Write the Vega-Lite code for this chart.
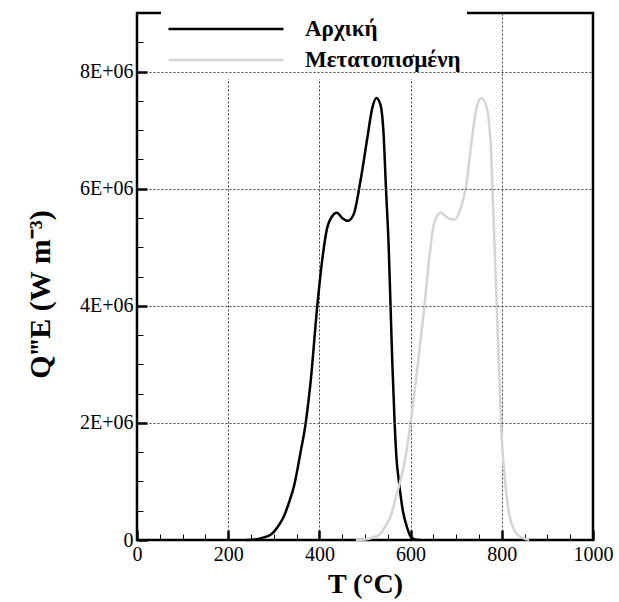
{
  "$schema": "https://vega.github.io/schema/vega-lite/v6.json",
  "width": 456,
  "height": 527,
  "autosize": "none",
  "padding": {"left": 137, "top": 13, "right": 26, "bottom": 62},
  "background": "white",
  "config": {
    "font": "Liberation Serif",
    "view": {"stroke": "black", "strokeWidth": 2.5},
    "legend": {"labelFontWeight": "bold", "zindex": 0}
  },
  "data": {
    "values": [
      {"series": "Αρχική", "T": 240, "Q": 0},
      {"series": "Αρχική", "T": 260, "Q": 10000},
      {"series": "Αρχική", "T": 280, "Q": 50000},
      {"series": "Αρχική", "T": 292, "Q": 85000},
      {"series": "Αρχική", "T": 310, "Q": 240000},
      {"series": "Αρχική", "T": 322, "Q": 400000},
      {"series": "Αρχική", "T": 335, "Q": 680000},
      {"series": "Αρχική", "T": 344, "Q": 910000},
      {"series": "Αρχική", "T": 358, "Q": 1470000},
      {"series": "Αρχική", "T": 370, "Q": 2000000},
      {"series": "Αρχική", "T": 381, "Q": 2720000},
      {"series": "Αρχική", "T": 395, "Q": 3970000},
      {"series": "Αρχική", "T": 406, "Q": 4770000},
      {"series": "Αρχική", "T": 417, "Q": 5330000},
      {"series": "Αρχική", "T": 428, "Q": 5530000},
      {"series": "Αρχική", "T": 438, "Q": 5590000},
      {"series": "Αρχική", "T": 450, "Q": 5500000},
      {"series": "Αρχική", "T": 462, "Q": 5450000},
      {"series": "Αρχική", "T": 475, "Q": 5560000},
      {"series": "Αρχική", "T": 490, "Q": 6130000},
      {"series": "Αρχική", "T": 505, "Q": 6860000},
      {"series": "Αρχική", "T": 516, "Q": 7380000},
      {"series": "Αρχική", "T": 525, "Q": 7550000},
      {"series": "Αρχική", "T": 534, "Q": 7430000},
      {"series": "Αρχική", "T": 541, "Q": 6900000},
      {"series": "Αρχική", "T": 546, "Q": 6000000},
      {"series": "Αρχική", "T": 552, "Q": 5000000},
      {"series": "Αρχική", "T": 556, "Q": 4000000},
      {"series": "Αρχική", "T": 560, "Q": 3000000},
      {"series": "Αρχική", "T": 565, "Q": 2000000},
      {"series": "Αρχική", "T": 569, "Q": 1400000},
      {"series": "Αρχική", "T": 575, "Q": 960000},
      {"series": "Αρχική", "T": 583, "Q": 500000},
      {"series": "Αρχική", "T": 593, "Q": 200000},
      {"series": "Αρχική", "T": 600, "Q": 60000},
      {"series": "Αρχική", "T": 610, "Q": 10000},
      {"series": "Αρχική", "T": 620, "Q": 0},
      {"series": "Μετατοπισμένη", "T": 480, "Q": 0},
      {"series": "Μετατοπισμένη", "T": 500, "Q": 10000},
      {"series": "Μετατοπισμένη", "T": 520, "Q": 50000},
      {"series": "Μετατοπισμένη", "T": 534, "Q": 110000},
      {"series": "Μετατοπισμένη", "T": 545, "Q": 240000},
      {"series": "Μετατοπισμένη", "T": 556, "Q": 400000},
      {"series": "Μετατοπισμένη", "T": 566, "Q": 680000},
      {"series": "Μετατοπισμένη", "T": 575, "Q": 930000},
      {"series": "Μετατοπισμένη", "T": 590, "Q": 1470000},
      {"series": "Μετατοπισμένη", "T": 600, "Q": 2000000},
      {"series": "Μετατοπισμένη", "T": 615, "Q": 2950000},
      {"series": "Μετατοπισμένη", "T": 630, "Q": 3970000},
      {"series": "Μετατοπισμένη", "T": 641, "Q": 4820000},
      {"series": "Μετατοπισμένη", "T": 651, "Q": 5390000},
      {"series": "Μετατοπισμένη", "T": 666, "Q": 5590000},
      {"series": "Μετατοπισμένη", "T": 681, "Q": 5500000},
      {"series": "Μετατοπισμένη", "T": 696, "Q": 5470000},
      {"series": "Μετατοπισμένη", "T": 710, "Q": 5670000},
      {"series": "Μετατοπισμένη", "T": 721, "Q": 6010000},
      {"series": "Μετατοπισμένη", "T": 732, "Q": 6690000},
      {"series": "Μετατοπισμένη", "T": 743, "Q": 7320000},
      {"series": "Μετατοπισμένη", "T": 755, "Q": 7550000},
      {"series": "Μετατοπισμένη", "T": 767, "Q": 7380000},
      {"series": "Μετατοπισμένη", "T": 776, "Q": 6690000},
      {"series": "Μετατοπισμένη", "T": 783, "Q": 5280000},
      {"series": "Μετατοπισμένη", "T": 789, "Q": 3970000},
      {"series": "Μετατοπισμένη", "T": 795, "Q": 2720000},
      {"series": "Μετατοπισμένη", "T": 799, "Q": 1870000},
      {"series": "Μετατοπισμένη", "T": 807, "Q": 1020000},
      {"series": "Μετατοπισμένη", "T": 816, "Q": 450000},
      {"series": "Μετατοπισμένη", "T": 827, "Q": 170000},
      {"series": "Μετατοπισμένη", "T": 842, "Q": 50000},
      {"series": "Μετατοπισμένη", "T": 860, "Q": 0}
    ]
  },
  "mark": {"type": "line", "interpolate": "monotone", "strokeWidth": 2.5},
  "encoding": {
    "x": {
      "field": "T",
      "type": "quantitative",
      "scale": {"domain": [0, 1000], "nice": false, "zero": false},
      "axis": {
        "values": [0, 50, 100, 150, 200, 250, 300, 350, 400, 450, 500, 550, 600, 650, 700, 750, 800, 850, 900, 950, 1000],
        "format": "d",
        "zindex": 0,
        "title": "T (°C)",
        "titleFont": "Liberation Serif",
        "titleFontSize": 28,
        "titleFontWeight": "bold",
        "titleColor": "black",
        "titlePadding": 2,
        "labelFont": "Liberation Serif",
        "labelFontSize": 20,
        "labelColor": "black",
        "labelExpr": "datum.value % 200 === 0 ? datum.label : ''",
        "labelOverlap": false,
        "labelFlush": false,
        "labelBound": false,
        "labelPadding": 14,
        "domain": false,
        "ticks": true,
        "tickColor": "black",
        "tickSize": {"condition": {"test": "datum.value % 200 === 0", "value": -10}, "value": -6},
        "tickWidth": {"condition": {"test": "datum.value % 200 === 0", "value": 2.5}, "value": 1},
        "grid": true,
        "gridColor": "#444444",
        "gridDash": [2, 2],
        "gridWidth": 1,
        "gridOpacity": {"condition": {"test": "datum.value % 200 === 0 && datum.value > 0 && datum.value < 1000", "value": 1}, "value": 0}
      }
    },
    "y": {
      "field": "Q",
      "type": "quantitative",
      "scale": {"domain": [0, 9000000], "nice": false},
      "axis": {
        "values": [0, 500000, 1000000, 1500000, 2000000, 2500000, 3000000, 3500000, 4000000, 4500000, 5000000, 5500000, 6000000, 6500000, 7000000, 7500000, 8000000, 8500000],
        "zindex": 1,
        "title": "Q‴E  (W m⁻³)",
        "titleFont": "Liberation Serif",
        "titleFontSize": 30,
        "titleFontWeight": "bold",
        "titleColor": "black",
        "titlePadding": 24,
        "titleY": 281,
        "labelFont": "Liberation Serif",
        "labelFontSize": 20,
        "labelColor": "black",
        "labelExpr": "datum.value % 2000000 === 0 ? (datum.value === 0 ? '0' : (datum.value / 1000000) + 'E+06') : ''",
        "labelOverlap": false,
        "labelFlush": false,
        "labelBound": false,
        "labelPadding": 14,
        "domain": false,
        "ticks": true,
        "tickColor": "black",
        "tickSize": {"condition": {"test": "datum.value % 2000000 === 0", "value": -10}, "value": -6},
        "tickWidth": {"condition": {"test": "datum.value % 2000000 === 0", "value": 2.5}, "value": 1},
        "grid": true,
        "gridColor": "#444444",
        "gridDash": [2, 2],
        "gridWidth": 1,
        "gridOpacity": {"condition": {"test": "datum.value % 2000000 === 0 && datum.value > 0", "value": 1}, "value": 0}
      }
    },
    "color": {
      "field": "series",
      "type": "nominal",
      "scale": {"domain": ["Αρχική", "Μετατοπισμένη"], "range": ["#000000", "#d4d4d4"]},
      "legend": {
        "orient": "none",
        "legendX": 24,
        "legendY": -3,
        "zindex": 0,
        "title": null,
        "fillColor": "white",
        "padding": 6,
        "symbolType": "stroke",
        "symbolSize": 13225,
        "symbolStrokeWidth": 2.5,
        "labelFont": "Liberation Serif",
        "labelFontSize": 23,
        "labelFontWeight": "bold",
        "labelColor": "black",
        "labelOffset": 20,
        "clipHeight": 26,
        "rowPadding": 5
      }
    }
  }
}
